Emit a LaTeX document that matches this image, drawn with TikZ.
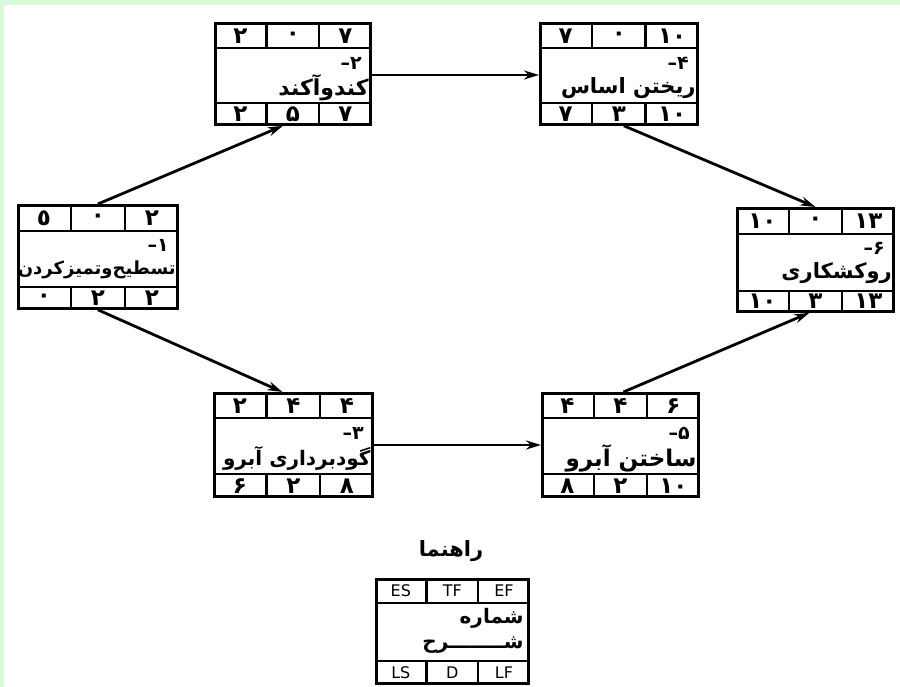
\documentclass[tikz,border=0pt]{standalone}
\usepackage{fontspec}
\usetikzlibrary{arrows.meta,calc}
\TeXXeTstate=1
\newfontfamily\arabicfont[Script=Arabic]{DejaVu Sans}
\newfontfamily\latinsans{DejaVu Sans}
\definecolor{framegreen}{HTML}{D8FAD8}
\tikzset{
  box/.style={draw, line width=2.8pt, inner sep=0pt, anchor=north west},
  rule/.style={line width=2.3pt},
  digit/.style={font=\arabicfont\bfseries\fontsize{23}{23}\selectfont, inner sep=0pt},
  latincell/.style={font=\latinsans\fontsize{16}{16}\selectfont, inner sep=0pt},
  actnum/.style={font=\arabicfont\bfseries\fontsize{19}{19}\selectfont, inner sep=0pt, anchor=east},
  acttitle/.style={font=\arabicfont\bfseries\fontsize{20}{20}\selectfont, inner sep=0pt, anchor=east},
  link/.style={line width=2.8pt, -{Stealth[length=15pt,width=9pt]}},
}
% frame of an activity box: name, x, y, width, height, top row, bottom row
\newcommand\actframe[7]{%
  \node[box, minimum width=#4pt, minimum height=#5pt] (#1) at (#2,#3) {};
  \draw[rule] ($(#1.north west)+(0,#6)$) -- ($(#1.north east)+(0,#6)$);
  \draw[rule] ($(#1.south west)+(0,-#7)$) -- ($(#1.south east)+(0,-#7)$);
  \draw[rule] ($(#1.north west)!1/3!(#1.north east)$) -- ++(0,#6);
  \draw[rule] ($(#1.north west)!2/3!(#1.north east)$) -- ++(0,#6);
  \draw[rule] ($(#1.south west)!1/3!(#1.south east)$) -- ++(0,-#7);
  \draw[rule] ($(#1.south west)!2/3!(#1.south east)$) -- ++(0,-#7);
}
% cells: name, t1, t2, t3, b1, b2, b3, number line, title line
\newcommand\actcells[9]{%
  \node[digit] (#1-t1) at ($(#1.north west)!1/6!(#1.north east)+(0,14)$) {#2};
  \node[digit] (#1-t2) at ($(#1.north west)!1/2!(#1.north east)+(0,14)$) {#3};
  \node[digit] (#1-t3) at ($(#1.north west)!5/6!(#1.north east)+(0,14)$) {#4};
  \node[digit] (#1-b1) at ($(#1.south west)!1/6!(#1.south east)+(0,-12)$) {#5};
  \node[digit] (#1-b2) at ($(#1.south west)!1/2!(#1.south east)+(0,-12)$) {#6};
  \node[digit] (#1-b3) at ($(#1.south west)!5/6!(#1.south east)+(0,-12)$) {#7};
  \node[actnum] (#1-num) at ($(#1.north east)+(-10,41)$) {#8};
  \node[acttitle] (#1-title) at ($(#1.north east)+(-3,66)$) {#9};
  \coordinate (#1-out) at ($(#1.north east)+(0,53)$);
}
\begin{document}
\begin{tikzpicture}[x=1pt, y=-1pt]
  \useasboundingbox (0,0) rectangle (900,687);
  \fill[framegreen] (0,0) rectangle (900,687);
  \fill[white] (4,5) rectangle (900,687);

  \actframe{n1}{17}{204}{159}{103}{27}{23}
  \actcells{n1}{٥}{۰}{۲}{۰}{۲}{۲}{\beginR ۱\kern0pt–\endR}{\fontsize{18}{18}\selectfont\beginR تسطیح‌وتمیزکردن\endR}

  \actframe{n2}{214}{22}{155}{101}{26}{23}
  \actcells{n2}{۲}{۰}{۷}{۲}{۵}{۷}{\beginR ۲\kern0pt–\endR}{\fontsize{22}{22}\selectfont\beginR کندوآکند\endR}

  \actframe{n3}{213}{392}{158}{103}{26}{24}
  \actcells{n3}{۲}{۴}{۴}{۶}{۲}{۸}{\beginR ۳\kern0pt–\endR}{\beginR گودبرداری آبرو\endR}

  \actframe{n4}{539}{22}{157}{101}{26}{23}
  \actcells{n4}{۷}{۰}{۱۰}{۷}{۳}{۱۰}{\beginR ۴\kern0pt–\endR}{\fontsize{21}{21}\selectfont\beginR ریختن اساس\endR}

  \actframe{n5}{541}{392}{156}{103}{26}{24}
  \actcells{n5}{۴}{۴}{۶}{۸}{۲}{۱۰}{\beginR ۵\kern0pt–\endR}{\fontsize{23}{23}\selectfont\beginR ساختن آبرو\endR}

  \actframe{n6}{736}{207}{156}{103}{27}{22}
  \actcells{n6}{۱۰}{۰}{۱۳}{۱۰}{۳}{۱۳}{\beginR ۶\kern0pt–\endR}{\fontsize{21}{21}\selectfont\beginR روکشکاری\endR}

  % connectors
  \draw[link] (n2-out) -- (n4.west |- n2-out);
  \draw[link] (n3-out) -- (n5.west |- n3-out);
  \draw[link] (n1.north) -- ($(n2.south)+(-10,0)$);
  \draw[link] (n1.south) -- ($(n3.north)+(-11,0)$);
  \draw[link] ($(n4.south)+(5,0)$) -- (n6.north);
  \draw[link] ($(n5.north)+(3,0)$) -- ($(n6.south)+(-6,0)$);

  % legend
  \node[font=\arabicfont\bfseries\fontsize{21}{21}\selectfont, inner sep=0pt] (guide) at (451,551) {\beginR راهنما\endR};
  \actframe{leg}{375}{578}{152}{104}{25}{24}
  \node[latincell] (leg-t1) at ($(leg.north west)!1/6!(leg.north east)+(0,12.5)$) {ES};
  \node[latincell] (leg-t2) at ($(leg.north west)!1/2!(leg.north east)+(0,12.5)$) {TF};
  \node[latincell] (leg-t3) at ($(leg.north west)!5/6!(leg.north east)+(0,12.5)$) {EF};
  \node[latincell] (leg-b1) at ($(leg.south west)!1/6!(leg.south east)+(0,-12)$) {LS};
  \node[latincell] (leg-b2) at ($(leg.south west)!1/2!(leg.south east)+(0,-12)$) {D};
  \node[latincell] (leg-b3) at ($(leg.south west)!5/6!(leg.south east)+(0,-12)$) {LF};
  \node[acttitle] (leg-num) at ($(leg.north east)+(-6,40)$) {\beginR شماره\endR};
  \node[acttitle] (leg-title) at ($(leg.north east)+(-6,67)$) {\beginR شــــــــرح\endR};
\end{tikzpicture}
\end{document}
